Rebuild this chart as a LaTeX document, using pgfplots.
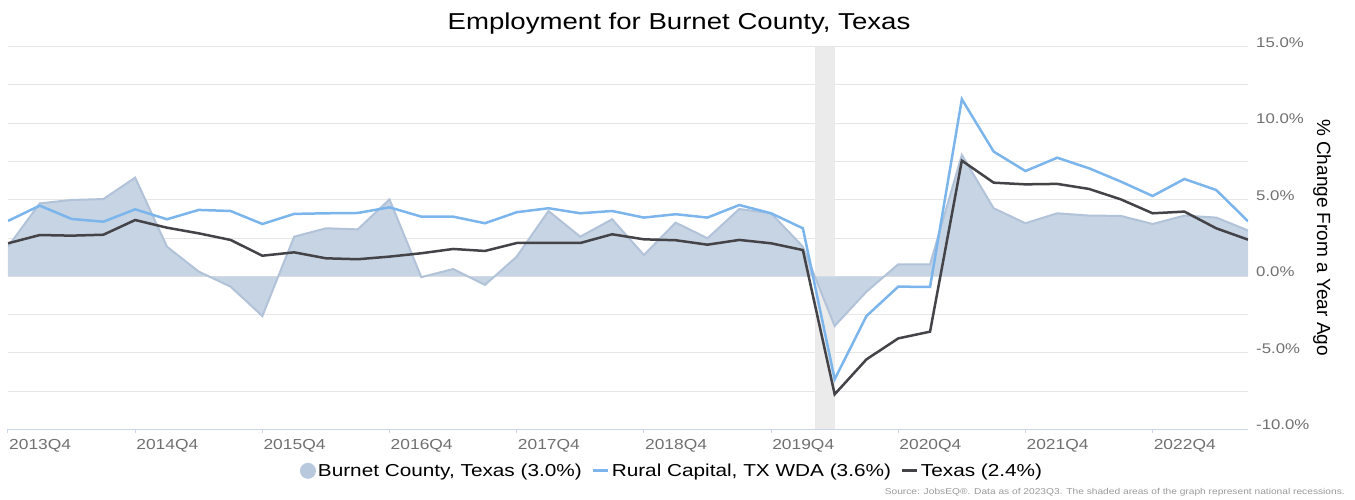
\documentclass[border=0pt]{standalone}
\usepackage{fontspec}
\setmainfont{Liberation Sans}[FakeStretch=1.2]
\newfontfamily\plainfont{Liberation Sans}
\usepackage{pgfplots}
\pgfplotsset{compat=1.18}
\usepackage{pgfplotstable}
\definecolor{burnetfill}{HTML}{C6D4E4}
\definecolor{burnetline}{HTML}{B2C3D9}
\definecolor{burnetleg}{HTML}{B8C9DE}
\definecolor{ruralcol}{HTML}{7CB5EC}
\definecolor{texascol}{HTML}{434348}
\definecolor{gridcol}{HTML}{E6E6E6}
\definecolor{axiscol}{HTML}{CCD6EB}
\definecolor{labcol}{HTML}{707070}
\definecolor{srccol}{HTML}{999999}
\definecolor{recess}{HTML}{EBEBEB}

\pgfplotstableread{
idx burnet rural texas
0 1.94 3.62 2.16
1 4.77 4.62 2.70
2 4.99 3.75 2.66
3 5.05 3.57 2.72
4 6.45 4.38 3.68
5 1.94 3.73 3.18
6 0.31 4.34 2.81
7 -0.67 4.27 2.38
8 -2.59 3.42 1.35
9 2.59 4.08 1.57
10 3.14 4.12 1.18
11 3.07 4.14 1.12
12 5.03 4.51 1.29
13 -0.05 3.90 1.51
14 0.48 3.90 1.79
15 -0.56 3.47 1.66
16 1.29 4.19 2.18
17 4.27 4.45 2.18
18 2.59 4.12 2.18
19 3.73 4.27 2.75
20 1.40 3.84 2.42
21 3.51 4.06 2.36
22 2.49 3.84 2.07
23 4.40 4.66 2.38
24 4.12 4.12 2.16
25 1.94 3.14 1.72
26 -3.24 -6.72 -7.70
27 -1.00 -2.59 -5.42
28 0.79 -0.67 -4.05
29 0.79 -0.69 -3.61
30 7.93 11.57 7.56
31 4.45 8.15 6.12
32 3.47 6.88 6.01
33 4.12 7.75 6.04
34 3.97 7.06 5.71
35 3.95 6.19 5.03
36 3.42 5.25 4.12
37 3.97 6.36 4.23
38 3.84 5.64 3.14
39 3.00 3.60 2.40
}\data

\begin{document}
\begin{tikzpicture}
\useasboundingbox (0,0) rectangle (1355pt,500pt);
\begin{axis}[
  at={(8pt,70.5pt)}, anchor=south west,
  scale only axis, width=1240pt, height=382.8pt,
  xmin=0, xmax=39, ymin=-10, ymax=15,
  axis x line*=bottom, axis y line*=right,
  x axis line style={draw=axiscol,-,line width=1pt},
  y axis line style={draw=none},
  xtick={0,4,...,36},
  xticklabels={2013Q4,2014Q4,2015Q4,2016Q4,2017Q4,2018Q4,2019Q4,2020Q4,2021Q4,2022Q4},
  xtick style={draw=axiscol,line width=1pt},
  tick align=outside,
  major tick length=4pt,
  xticklabel style={anchor=north west, inner sep=0pt, xshift=1pt, yshift=-6pt, font=\fontsize{14.5}{16}\selectfont, text=labcol},
  ytick={-10,-5,0,5,10,15},
  yticklabels={-10.0\%,-5.0\%,0.0\%,5.0\%,10.0\%,15.0\%},
  ytick style={draw=none},
  yticklabel style={anchor=west, inner sep=0pt, xshift=4pt, yshift=4.5pt, font=\fontsize{14}{16}\selectfont, text=labcol},
  minor ytick={-7.5,-2.5,2.5,7.5,12.5},
  ymajorgrids, yminorgrids,
  major grid style={draw=gridcol,line width=1pt},
  minor grid style={draw=gridcol,line width=1pt},
  legend columns=-1,
  legend cell align=left,
  legend style={at={(axis description cs:0.5355,-0.108)}, anchor=center, draw=none, fill=none,
    font=\fontsize{17.3}{20}\selectfont,
    /tikz/every even column/.append style={column sep=8pt}},
]
\addplot[fill=recess, draw=none, forget plot] coordinates {(25.38,-10) (26,-10) (26,15) (25.38,15)};
\addplot[draw=none, fill=burnetfill,
  legend image code/.code={\fill[burnetleg] (6pt,0pt) circle (8pt);}]
  table[x=idx,y=burnet]{\data} \closedcycle;
\addlegendentry{Burnet County, Texas (3.0\%)}
\addplot[burnetline, line width=2pt, forget plot] table[x=idx,y=burnet]{\data};
\addplot[ruralcol, line width=2.5pt,
  legend image code/.code={\draw[ruralcol,line width=3pt] (0pt,0pt) -- (15pt,0pt);}]
  table[x=idx,y=rural]{\data};
\addlegendentry{Rural Capital, TX WDA (3.6\%)}
\addplot[texascol, line width=2.5pt,
  legend image code/.code={\draw[texascol,line width=3pt] (0pt,0pt) -- (15pt,0pt);}]
  table[x=idx,y=texas]{\data};
\addlegendentry{Texas (2.4\%)}
\end{axis}
\node[anchor=base, font=\fontsize{23}{27}\selectfont, inner sep=0pt] at (679pt,470pt) {Employment for Burnet County, Texas};
\node[rotate=-90, anchor=center, font=\plainfont\fontsize{19}{22}\selectfont, inner sep=0pt] at (1322pt,262.5pt) {\% Change From a Year Ago};
\node[anchor=base east, font=\fontsize{8.5}{10}\selectfont, text=srccol, inner sep=0pt] at (1345pt,5pt) {Source: JobsEQ®. Data as of 2023Q3. The shaded areas of the graph represent national recessions.};
\end{tikzpicture}
\end{document}
